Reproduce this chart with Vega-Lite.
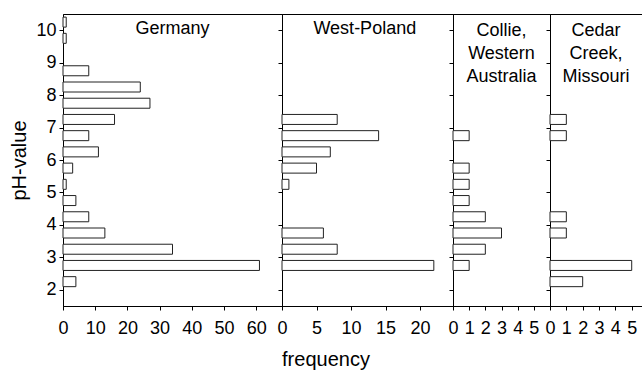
{
  "$schema": "https://vega.github.io/schema/vega-lite/v6.json",
  "padding": {"left": 9, "top": 13, "right": 0, "bottom": 0},
  "background": "white",
  "bounds": "flush",
  "spacing": 0,
  "title": {"text": "frequency", "orient": "bottom", "anchor": "middle", "fontSize": 20, "font": "Liberation Sans", "fontWeight": "normal", "color": "black", "offset": 12},
  "datasets": {
    "d": [
      {"region": "Germany", "ph": 2.25, "freq": 4},
      {"region": "Germany", "ph": 2.75, "freq": 61},
      {"region": "Germany", "ph": 3.25, "freq": 34},
      {"region": "Germany", "ph": 3.75, "freq": 13},
      {"region": "Germany", "ph": 4.25, "freq": 8},
      {"region": "Germany", "ph": 4.75, "freq": 4},
      {"region": "Germany", "ph": 5.25, "freq": 1},
      {"region": "Germany", "ph": 5.75, "freq": 3},
      {"region": "Germany", "ph": 6.25, "freq": 11},
      {"region": "Germany", "ph": 6.75, "freq": 8},
      {"region": "Germany", "ph": 7.25, "freq": 16},
      {"region": "Germany", "ph": 7.75, "freq": 27},
      {"region": "Germany", "ph": 8.25, "freq": 24},
      {"region": "Germany", "ph": 8.75, "freq": 8},
      {"region": "Germany", "ph": 9.75, "freq": 1},
      {"region": "Germany", "ph": 10.25, "freq": 1},
      {"region": "West-Poland", "ph": 2.75, "freq": 22},
      {"region": "West-Poland", "ph": 3.25, "freq": 8},
      {"region": "West-Poland", "ph": 3.75, "freq": 6},
      {"region": "West-Poland", "ph": 5.25, "freq": 1},
      {"region": "West-Poland", "ph": 5.75, "freq": 5},
      {"region": "West-Poland", "ph": 6.25, "freq": 7},
      {"region": "West-Poland", "ph": 6.75, "freq": 14},
      {"region": "West-Poland", "ph": 7.25, "freq": 8},
      {"region": "Collie", "ph": 2.75, "freq": 1},
      {"region": "Collie", "ph": 3.25, "freq": 2},
      {"region": "Collie", "ph": 3.75, "freq": 3},
      {"region": "Collie", "ph": 4.25, "freq": 2},
      {"region": "Collie", "ph": 4.75, "freq": 1},
      {"region": "Collie", "ph": 5.25, "freq": 1},
      {"region": "Collie", "ph": 5.75, "freq": 1},
      {"region": "Collie", "ph": 6.75, "freq": 1},
      {"region": "Cedar", "ph": 2.25, "freq": 2},
      {"region": "Cedar", "ph": 2.75, "freq": 5},
      {"region": "Cedar", "ph": 3.75, "freq": 1},
      {"region": "Cedar", "ph": 4.25, "freq": 1},
      {"region": "Cedar", "ph": 6.75, "freq": 1},
      {"region": "Cedar", "ph": 7.25, "freq": 1}
    ],
    "names": [
      {"region": "Germany", "label": "Germany"},
      {"region": "West-Poland", "label": "West-Poland"},
      {"region": "Collie", "label": ["Collie,", "Western", "Australia"]},
      {"region": "Cedar", "label": ["Cedar", "Creek,", "Missouri"]}
    ]
  },
  "hconcat": [
    {
      "width": 219, "height": 292,
      "layer": [
        {
          "data": {"name": "d"},
          "transform": [{"filter": "datum.region === 'Germany'"}],
          "mark": {"type": "bar", "orient": "horizontal", "size": 10, "fill": "white", "stroke": "#222", "strokeWidth": 1},
          "encoding": {
            "y": {"field": "ph", "type": "quantitative", "scale": {"domain": [1.5, 10.5], "nice": false, "zero": false, "padding": 0}, "axis": {"title": "pH-value", "values": [2,3,4,5,6,7,8,9,10], "labelOverlap": false}},
            "x": {"field": "freq", "type": "quantitative", "scale": {"domain": [0, 68], "nice": false, "padding": 0}, "axis": {"title": null, "values": [0,10,20,30,40,50,60], "labelOverlap": false}}
          }
        },
        {
          "data": {"name": "names"},
          "transform": [{"filter": "datum.region === 'Germany'"}],
          "mark": {"type": "text", "baseline": "middle", "align": "center", "fontSize": 18, "lineHeight": 23, "dy": 15, "color": "black"},
          "encoding": {
            "x": {"datum": 34, "type": "quantitative", "axis": {"title": null, "values": [0,10,20,30,40,50,60], "labelOverlap": false}},
            "y": {"datum": 10.5, "type": "quantitative", "axis": {"title": "pH-value", "values": [2,3,4,5,6,7,8,9,10], "labelOverlap": false}},
            "text": {"field": "label"}
          }
        }
      ]
    },
    {
      "width": 171, "height": 292,
      "layer": [
        {
          "data": {"name": "d"},
          "transform": [{"filter": "datum.region === 'West-Poland'"}],
          "mark": {"type": "bar", "orient": "horizontal", "size": 10, "fill": "white", "stroke": "#222", "strokeWidth": 1},
          "encoding": {
            "y": {"field": "ph", "type": "quantitative", "scale": {"domain": [1.5, 10.5], "nice": false, "zero": false, "padding": 0}, "axis": {"title": null, "labels": false, "values": [2,3,4,5,6,7,8,9,10]}},
            "x": {"field": "freq", "type": "quantitative", "scale": {"domain": [0, 24.78], "nice": false, "padding": 0}, "axis": {"title": null, "values": [0,5,10,15,20], "labelOverlap": false}}
          }
        },
        {
          "data": {"name": "names"},
          "transform": [{"filter": "datum.region === 'West-Poland'"}],
          "mark": {"type": "text", "baseline": "middle", "align": "center", "fontSize": 18, "lineHeight": 23, "dy": 15, "color": "black"},
          "encoding": {
            "x": {"datum": 12.0, "type": "quantitative", "axis": {"title": null, "values": [0,5,10,15,20], "labelOverlap": false}},
            "y": {"datum": 10.5, "type": "quantitative", "axis": {"title": null, "labels": false, "values": [2,3,4,5,6,7,8,9,10]}},
            "text": {"field": "label"}
          }
        }
      ]
    },
    {
      "width": 97, "height": 292,
      "layer": [
        {
          "data": {"name": "d"},
          "transform": [{"filter": "datum.region === 'Collie'"}],
          "mark": {"type": "bar", "orient": "horizontal", "size": 10, "fill": "white", "stroke": "#222", "strokeWidth": 1},
          "encoding": {
            "y": {"field": "ph", "type": "quantitative", "scale": {"domain": [1.5, 10.5], "nice": false, "zero": false, "padding": 0}, "axis": {"title": null, "labels": false, "values": [2,3,4,5,6,7,8,9,10]}},
            "x": {"field": "freq", "type": "quantitative", "scale": {"domain": [0, 6], "nice": false, "padding": 0}, "axis": {"title": null, "values": [0,1,2,3,4,5], "labelOverlap": false}}
          }
        },
        {
          "data": {"name": "names"},
          "transform": [{"filter": "datum.region === 'Collie'"}],
          "mark": {"type": "text", "baseline": "middle", "align": "center", "fontSize": 18, "lineHeight": 23, "dy": 17, "color": "black"},
          "encoding": {
            "x": {"datum": 3, "type": "quantitative", "axis": {"title": null, "values": [0,1,2,3,4,5], "labelOverlap": false}},
            "y": {"datum": 10.5, "type": "quantitative", "axis": {"title": null, "labels": false, "values": [2,3,4,5,6,7,8,9,10]}},
            "text": {"field": "label"}
          }
        }
      ]
    },
    {
      "width": 92, "height": 292,
      "layer": [
        {
          "data": {"name": "d"},
          "transform": [{"filter": "datum.region === 'Cedar'"}],
          "mark": {"type": "bar", "orient": "horizontal", "size": 10, "fill": "white", "stroke": "#222", "strokeWidth": 1},
          "encoding": {
            "y": {"field": "ph", "type": "quantitative", "scale": {"domain": [1.5, 10.5], "nice": false, "zero": false, "padding": 0}, "axis": {"title": null, "labels": false, "values": [2,3,4,5,6,7,8,9,10]}},
            "x": {"field": "freq", "type": "quantitative", "scale": {"domain": [0, 5.63], "nice": false, "padding": 0}, "axis": {"title": null, "values": [0,1,2,3,4,5], "labelOverlap": false}}
          }
        },
        {
          "data": {"name": "names"},
          "transform": [{"filter": "datum.region === 'Cedar'"}],
          "mark": {"type": "text", "baseline": "middle", "align": "center", "fontSize": 18, "lineHeight": 23, "dy": 17, "color": "black"},
          "encoding": {
            "x": {"datum": 2.815, "type": "quantitative", "axis": {"title": null, "values": [0,1,2,3,4,5], "labelOverlap": false}},
            "y": {"datum": 10.5, "type": "quantitative", "axis": {"title": null, "labels": false, "values": [2,3,4,5,6,7,8,9,10]}},
            "text": {"field": "label"}
          }
        }
      ]
    }
  ],
  "config": {
    "font": "Liberation Sans",
    "view": {"stroke": "black", "strokeWidth": 1},
    "axis": {
      "grid": false,
      "domainColor": "black",
      "tickColor": "black",
      "tickSize": 4,
      "labelFont": "Liberation Sans",
      "labelFontSize": 18,
      "labelColor": "black",
      "titleFont": "Liberation Sans",
      "titleFontSize": 20,
      "titleFontWeight": "normal",
      "titleColor": "black"
    },
    "axisX": {"labelPadding": 9, "labelFlush": false},
    "axisY": {"labelPadding": 3, "titlePadding": 6}
  }
}
